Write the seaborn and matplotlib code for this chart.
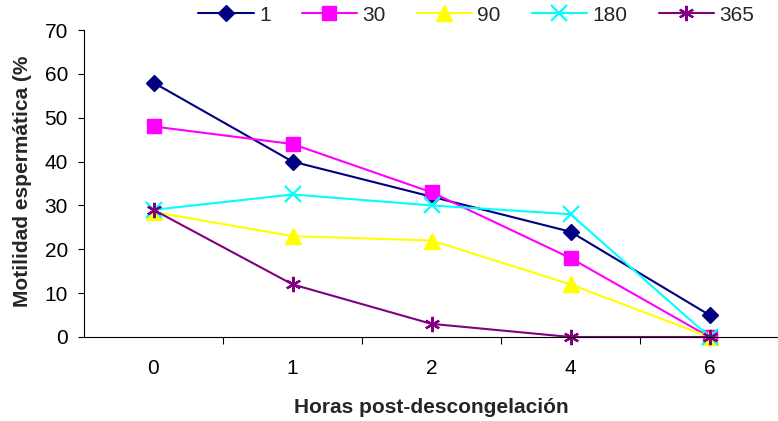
import matplotlib
matplotlib.use("Agg")
import matplotlib.pyplot as plt
from matplotlib.ticker import FixedLocator
import seaborn as sns
import pandas as pd

hours = ["0", "1", "2", "4", "6"]
groups = ["1", "30", "90", "180", "365"]
vals_1 = [58, 40, 32, 24, 5]
vals_30 = [48, 44, 33, 18, 0]
vals_90 = [28.5, 23, 22, 12, 0]
vals_180 = [29, 32.5, 30, 28, 0]
vals_365 = [29, 12, 3, 0, 0]
series = [vals_1, vals_30, vals_90, vals_180, vals_365]

colors = ["#000080", "#FF00FF", "#FFFF00", "#00FFFF", "#800080"]
marker_shapes = ["D", "s", "^", "x", (6, 2, 0)]
marker_sizes = [8.5, 10, 11, 11, 11]

rows = []
for g, vals in zip(groups, series):
    for i, v in enumerate(vals):
        rows.append({"pos": i, "grupo": g, "motilidad": v})
df = pd.DataFrame(rows)

sns.set_theme(style="white")
plt.rcParams["font.family"] = ["Liberation Sans", "DejaVu Sans"]

fig = plt.figure(figsize=(7.78, 4.21), dpi=100)
ax = fig.add_axes([84 / 778, 1 - 337 / 421, 695 / 778, 307 / 421])

for g, c, m, ms in zip(groups, colors, marker_shapes, marker_sizes):
    sub = df[df["grupo"] == g]
    sns.lineplot(data=sub, x="pos", y="motilidad", color=c, marker=m,
                 markersize=ms, markeredgecolor=c, markerfacecolor=c,
                 markeredgewidth=1.6 if m in ("x", (6, 2, 0)) else 1,
                 linewidth=1.5, ax=ax, label=g, legend=False, clip_on=False)

ax.set_xlim(-0.5, len(hours) - 0.5)
ax.set_ylim(0, 70)
ax.set_yticks(range(0, 71, 10))
ax.set_xticks(range(len(hours)))
ax.set_xticklabels(hours)
ax.xaxis.set_minor_locator(FixedLocator([i + 0.5 for i in range(len(hours) - 1)]))
ax.tick_params(axis="x", which="major", length=0, pad=16, labelsize=15, colors="black")
ax.tick_params(axis="x", which="minor", length=5, width=0.8, direction="out",
               bottom=True, color="black")
ax.tick_params(axis="y", which="major", length=4.5, width=0.8, direction="out",
               left=True, labelsize=15, colors="black", pad=7)

for side in ("top", "right"):
    ax.spines[side].set_visible(False)
for side in ("left", "bottom"):
    ax.spines[side].set_color("black")
    ax.spines[side].set_linewidth(0.8)

ax.set_xlabel("Horas post-descongelación", fontsize=15, fontweight="bold")
ax.set_ylabel("Motilidad espermática (%", fontsize=15, fontweight="bold")
ax.xaxis.set_label_coords(0.5, -0.199)
ax.yaxis.set_label_coords(-0.075, 0.508)
ax.grid(False)

handles, labels = ax.get_legend_handles_labels()
fig.legend(handles, labels, loc="center", bbox_to_anchor=(0.612, 0.964), ncol=5,
           frameon=False, fontsize=15, handlelength=2.65, handletextpad=0.25,
           columnspacing=1.5, borderaxespad=0, borderpad=0)

fig.savefig("out.png", dpi=100, facecolor="white")
